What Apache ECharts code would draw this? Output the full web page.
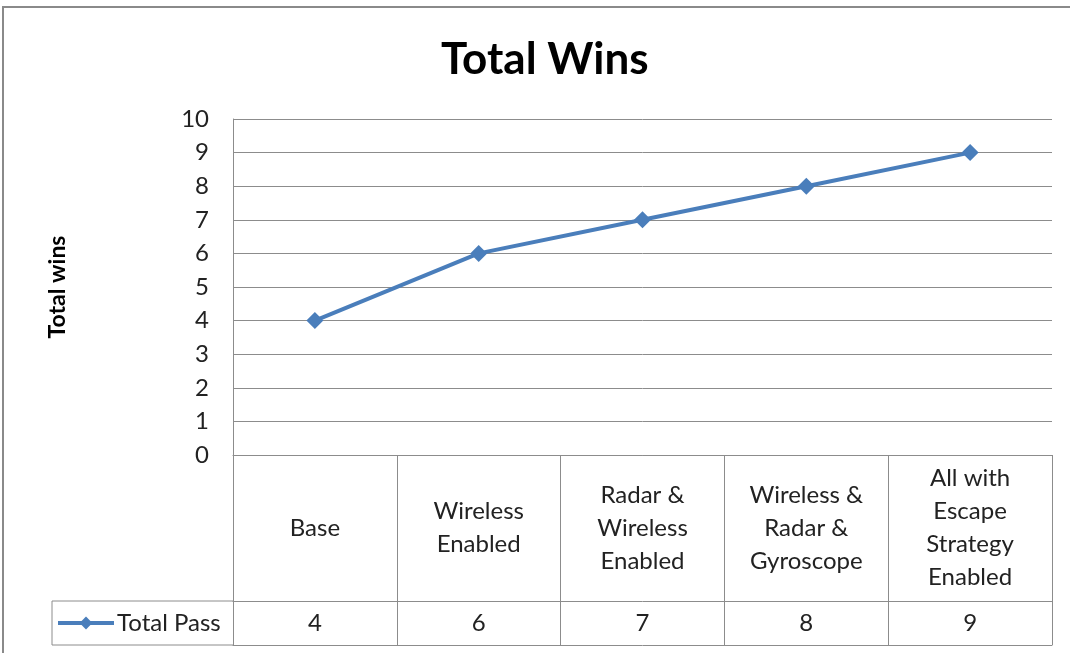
<!DOCTYPE html>
<html><head><meta charset="utf-8">
<script src="https://cdn.jsdelivr.net/npm/echarts@6/dist/echarts.min.js"></script>
<style>html,body{margin:0;padding:0;background:#fff}#c{width:1070px;height:653px}</style>
</head><body><div id="c"></div>
<script>
const categories = ["Base", "Wireless\nEnabled", "Radar &\nWireless\nEnabled", "Wireless &\nRadar &\nGyroscope", "All with\nEscape\nStrategy\nEnabled"];
const totalPass = [4, 6, 7, 8, 9];
const seriesName = "Total Pass";
const chartTitle = "Total Wins";
const yAxisName = "Total wins";

const FONT = 'Lato';
const gridColor = '#8c8c8c';
const chart = echarts.init(document.getElementById('c'), null, {renderer: 'canvas'});
chart.setOption({
  animation: false,
  backgroundColor: '#fff',
  title: {text: chartTitle, left: 441, top: 38, padding: 0,
    textStyle: {fontFamily: FONT, fontWeight: 'bold', fontSize: 44, color: '#000'}},
  grid: {left: 233, right: 18, top: 119, bottom: 198},
  legend: {left: 56, top: 611, padding: 0, itemWidth: 56, itemHeight: 16, itemGap: 4,
    data: [seriesName],
    lineStyle: {width: 4},
    textStyle: {fontFamily: FONT, fontSize: 24, color: '#222', padding: [0,0,0,-2]}},
  xAxis: [
    {type: 'category', data: categories, boundaryGap: true, position: 'bottom',
     axisLine: {show: true, lineStyle: {color: gridColor, width: 1}},
     axisTick: {show: true, interval: 0, length: 146, lineStyle: {color: gridColor, width: 1}},
     axisLabel: {interval: 0, margin: 73, verticalAlign: 'middle', lineHeight: 33,
       fontFamily: FONT, fontSize: 24, color: '#222', align: 'center'}},
    {type: 'category', data: categories, boundaryGap: true, position: 'bottom', offset: 146,
     axisLine: {show: true, lineStyle: {color: gridColor, width: 1}},
     axisTick: {show: true, interval: 0, length: 44, lineStyle: {color: gridColor, width: 1}},
     axisLabel: {interval: 0, margin: 22, verticalAlign: 'middle',
       formatter: (v, i) => String(totalPass[i]),
       fontFamily: FONT, fontSize: 24, color: '#222'}},
    {type: 'category', data: categories, boundaryGap: true, position: 'bottom', offset: 190,
     axisLine: {show: true, lineStyle: {color: gridColor, width: 1}},
     axisTick: {show: false}, axisLabel: {show: false}}
  ],
  yAxis: {type: 'value', min: 0, max: 10, interval: 1,
    name: yAxisName, nameLocation: 'middle', nameGap: 164, nameRotate: 90,
    nameTextStyle: {fontFamily: FONT, fontWeight: 'bold', fontSize: 23, color: '#000'},
    axisLine: {show: true, lineStyle: {color: gridColor, width: 1}},
    axisTick: {show: false},
    axisLabel: {margin: 24, fontFamily: FONT, fontSize: 24, color: '#222'},
    splitLine: {show: true, lineStyle: {color: gridColor, width: 1}}},
  series: [{
    name: seriesName, type: 'line', xAxisIndex: 0, data: totalPass,
    symbol: 'diamond', symbolSize: 17,
    itemStyle: {color: '#4a7ebb'},
    lineStyle: {color: '#4a7ebb', width: 4}
  }],
  graphic: [
    {type: 'rect', shape: {x: 3, y: 7, width: 1090, height: 670},
     style: {fill: 'none', stroke: '#8a8a8a', lineWidth: 2}, z: 100},
    {type: 'polyline', shape: {points: [[233, 601], [52, 601], [52, 645], [233, 645]]},
     style: {fill: 'none', stroke: gridColor, lineWidth: 1}, z: 100}
  ]
});
</script></body></html>
